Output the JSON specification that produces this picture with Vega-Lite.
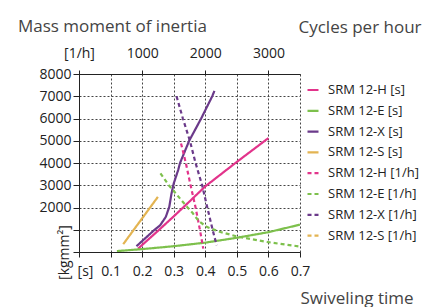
{
  "$schema": "https://vega.github.io/schema/vega-lite/v6.json",
  "width": 221,
  "height": 178,
  "autosize": "none",
  "padding": {"left": 79, "top": 74, "right": 129, "bottom": 55},
  "title": {
    "text": "Mass moment of inertia",
    "anchor": "start",
    "frame": "group",
    "dx": -61,
    "dy": 22,
    "fontSize": 17,
    "fontWeight": "normal",
    "color": "#444444",
    "font": "Open Sans"
  },
  "config": {
    "font": "Open Sans",
    "view": {"stroke": null},
    "axis": {
      "labelFont": "Open Sans",
      "labelFontSize": 14,
      "labelColor": "#222222",
      "labelFlush": false,
      "labelOverlap": false,
      "labelBound": false,
      "domainColor": "#222222",
      "tickColor": "#222222",
      "gridColor": "#444444",
      "gridDash": [2, 2],
      "gridOpacity": 1,
      "gridWidth": 1,
      "titleFont": "Open Sans",
      "titleFontWeight": "normal",
      "titleColor": "#444444",
      "titleFontSize": 17
    }
  },
  "datasets": {
    "solid": [
      {"series": "SRM 12-H [s]", "t": 0.187, "J": 150},
      {"series": "SRM 12-H [s]", "t": 0.25, "J": 950},
      {"series": "SRM 12-H [s]", "t": 0.3, "J": 1600},
      {"series": "SRM 12-H [s]", "t": 0.35, "J": 2270},
      {"series": "SRM 12-H [s]", "t": 0.4, "J": 2950},
      {"series": "SRM 12-H [s]", "t": 0.5, "J": 4050},
      {"series": "SRM 12-H [s]", "t": 0.6, "J": 5120},
      {"series": "SRM 12-E [s]", "t": 0.12, "J": 40},
      {"series": "SRM 12-E [s]", "t": 0.2, "J": 130},
      {"series": "SRM 12-E [s]", "t": 0.3, "J": 260},
      {"series": "SRM 12-E [s]", "t": 0.4, "J": 420},
      {"series": "SRM 12-E [s]", "t": 0.5, "J": 640},
      {"series": "SRM 12-E [s]", "t": 0.6, "J": 890},
      {"series": "SRM 12-E [s]", "t": 0.7, "J": 1230},
      {"series": "SRM 12-X [s]", "t": 0.182, "J": 260},
      {"series": "SRM 12-X [s]", "t": 0.238, "J": 980},
      {"series": "SRM 12-X [s]", "t": 0.257, "J": 1200},
      {"series": "SRM 12-X [s]", "t": 0.275, "J": 1580},
      {"series": "SRM 12-X [s]", "t": 0.286, "J": 2030},
      {"series": "SRM 12-X [s]", "t": 0.293, "J": 2630},
      {"series": "SRM 12-X [s]", "t": 0.3, "J": 3080},
      {"series": "SRM 12-X [s]", "t": 0.314, "J": 3680},
      {"series": "SRM 12-X [s]", "t": 0.32, "J": 4000},
      {"series": "SRM 12-X [s]", "t": 0.349, "J": 5000},
      {"series": "SRM 12-X [s]", "t": 0.387, "J": 6000},
      {"series": "SRM 12-X [s]", "t": 0.422, "J": 7000},
      {"series": "SRM 12-X [s]", "t": 0.429, "J": 7240},
      {"series": "SRM 12-S [s]", "t": 0.14, "J": 350},
      {"series": "SRM 12-S [s]", "t": 0.25, "J": 2480}
    ],
    "dashed": [
      {"series": "SRM 12-H [1/h]", "c": 1616, "J": 4880},
      {"series": "SRM 12-H [1/h]", "c": 1692, "J": 4000},
      {"series": "SRM 12-H [1/h]", "c": 1767, "J": 3000},
      {"series": "SRM 12-H [1/h]", "c": 1846, "J": 2000},
      {"series": "SRM 12-H [1/h]", "c": 1915, "J": 1000},
      {"series": "SRM 12-H [1/h]", "c": 1968, "J": 150},
      {"series": "SRM 12-E [1/h]", "c": 1290, "J": 3530},
      {"series": "SRM 12-E [1/h]", "c": 1423, "J": 3000},
      {"series": "SRM 12-E [1/h]", "c": 1556, "J": 2550},
      {"series": "SRM 12-E [1/h]", "c": 1720, "J": 2000},
      {"series": "SRM 12-E [1/h]", "c": 1800, "J": 1750},
      {"series": "SRM 12-E [1/h]", "c": 1900, "J": 1380},
      {"series": "SRM 12-E [1/h]", "c": 2030, "J": 1120},
      {"series": "SRM 12-E [1/h]", "c": 2240, "J": 900},
      {"series": "SRM 12-E [1/h]", "c": 2500, "J": 700},
      {"series": "SRM 12-E [1/h]", "c": 3000, "J": 440},
      {"series": "SRM 12-E [1/h]", "c": 3500, "J": 245},
      {"series": "SRM 12-X [1/h]", "c": 1545, "J": 7000},
      {"series": "SRM 12-X [1/h]", "c": 1645, "J": 6000},
      {"series": "SRM 12-X [1/h]", "c": 1756, "J": 5000},
      {"series": "SRM 12-X [1/h]", "c": 1846, "J": 4000},
      {"series": "SRM 12-X [1/h]", "c": 1950, "J": 3000},
      {"series": "SRM 12-X [1/h]", "c": 2032, "J": 2000},
      {"series": "SRM 12-X [1/h]", "c": 2116, "J": 1000},
      {"series": "SRM 12-X [1/h]", "c": 2180, "J": 300}
    ]
  },
  "resolve": {"scale": {"x": "independent"}},
  "layer": [
    {
      "data": {"name": "solid"},
      "mark": {"type": "line", "strokeWidth": 2.2, "clip": true},
      "encoding": {
        "x": {
          "field": "t",
          "type": "quantitative",
          "scale": {"domain": [0, 0.7], "nice": false, "zero": false},
          "axis": {
            "orient": "bottom",
            "values": [0, 0.1, 0.2, 0.3, 0.4, 0.5, 0.6, 0.7],
            "labelExpr": "datum.value == 0 ? '[s]' : format(datum.value, '.1f')",
            "labelOffset": {"condition": {"test": "datum.value == 0", "value": 6}, "value": 0},
            "labelPadding": 7,
            "tickSize": 5,
            "grid": true,
            "title": "Swiveling time",
            "titleX": 221,
            "titleY": 51,
            "titleAlign": "left",
            "titleBaseline": "alphabetic",
            "titleAnchor": null
          }
        },
        "y": {
          "field": "J",
          "type": "quantitative",
          "scale": {"domain": [0, 8000], "nice": false},
          "axis": {
            "orient": "left",
            "values": [0, 1000, 2000, 3000, 4000, 5000, 6000, 7000, 8000],
            "labelExpr": "datum.value <= 1000 ? '' : format(datum.value, 'd')",
            "labelPadding": 2,
            "tickSize": 6,
            "grid": true,
            "title": "[kgmm²]",
            "titleAngle": 270,
            "titleX": -15,
            "titleY": 178,
            "titleAlign": "center",
            "titleBaseline": "middle",
            "titleFontSize": 14,
            "titleColor": "#222222"
          }
        },
        "color": {
          "field": "series",
          "type": "nominal",
          "scale": {
            "domain": ["SRM 12-H [s]", "SRM 12-E [s]", "SRM 12-X [s]", "SRM 12-S [s]", "SRM 12-H [1/h]", "SRM 12-E [1/h]", "SRM 12-X [1/h]", "SRM 12-S [1/h]"],
            "range": ["#e2348b", "#7dc04c", "#6b3a8a", "#e3b452", "#e2348b", "#7dc04c", "#6b3a8a", "#e3b452"]
          },
          "legend": {
            "title": null,
            "orient": "none",
            "legendX": 227,
            "legendY": 9,
            "padding": 0,
            "symbolType": "stroke",
            "symbolSize": 121,
            "symbolStrokeWidth": 2.2,
            "labelFont": "Open Sans",
            "labelFontSize": 13,
            "labelColor": "#222222",
            "labelOffset": 8,
            "rowPadding": 6.8
          }
        },
        "strokeDash": {
          "field": "series",
          "type": "nominal",
          "scale": {
            "domain": ["SRM 12-H [s]", "SRM 12-E [s]", "SRM 12-X [s]", "SRM 12-S [s]", "SRM 12-H [1/h]", "SRM 12-E [1/h]", "SRM 12-X [1/h]", "SRM 12-S [1/h]"],
            "range": [[1, 0], [1, 0], [1, 0], [1, 0], [4, 3], [4, 3], [4, 3], [4, 3]]
          },
          "legend": {
            "title": null,
            "orient": "none",
            "legendX": 227,
            "legendY": 9,
            "padding": 0,
            "symbolType": "stroke",
            "symbolSize": 121,
            "symbolStrokeWidth": 2.2,
            "labelFont": "Open Sans",
            "labelFontSize": 13,
            "labelColor": "#222222",
            "labelOffset": 8,
            "rowPadding": 6.8
          }
        }
      }
    },
    {
      "data": {"name": "dashed"},
      "mark": {"type": "line", "strokeWidth": 2.2, "clip": true},
      "encoding": {
        "x": {
          "field": "c",
          "type": "quantitative",
          "scale": {"domain": [0, 3500], "nice": false, "zero": false},
          "axis": {
            "orient": "top",
            "values": [0, 1000, 2000, 3000],
            "labelExpr": "datum.value == 0 ? '[1/h]' : format(datum.value, 'd')",
            "labelPadding": 10,
            "tickSize": 4,
            "grid": false,
            "title": "Cycles per hour",
            "titleX": 219,
            "titleY": -42,
            "titleAlign": "left",
            "titleBaseline": "alphabetic",
            "titleAnchor": null
          }
        },
        "y": {
          "field": "J",
          "type": "quantitative",
          "axis": {
            "orient": "left",
            "values": [0, 1000, 2000, 3000, 4000, 5000, 6000, 7000, 8000],
            "labelExpr": "datum.value <= 1000 ? '' : format(datum.value, 'd')",
            "labelPadding": 2,
            "tickSize": 6,
            "grid": true,
            "title": "[kgmm²]",
            "titleAngle": 270,
            "titleX": -15,
            "titleY": 178,
            "titleAlign": "center",
            "titleBaseline": "middle",
            "titleFontSize": 14,
            "titleColor": "#222222"
          }
        },
        "color": {"field": "series", "type": "nominal"},
        "strokeDash": {"field": "series", "type": "nominal"}
      }
    }
  ]
}
